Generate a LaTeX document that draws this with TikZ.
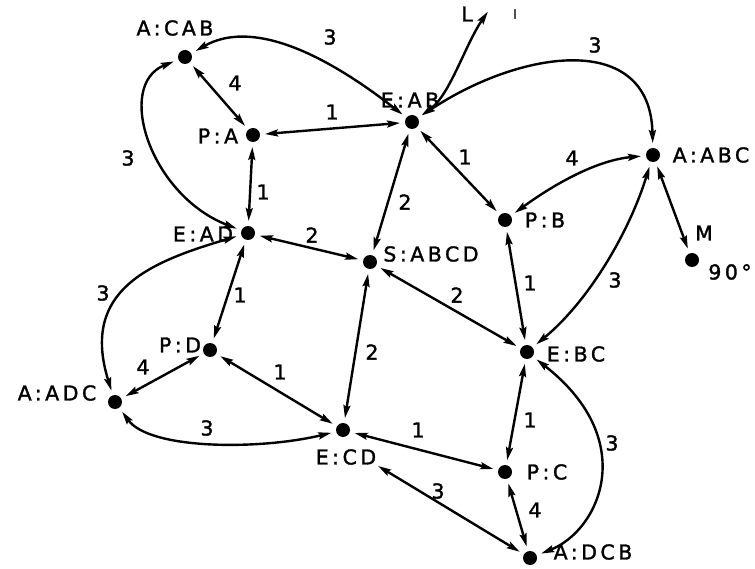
\documentclass[tikz,border=0pt]{standalone}
\usepackage{fontspec}
\setmainfont{DejaVu Sans}
\newfontfamily\labfont[LetterSpace=17,FakeBold=1.5]{DejaVu Sans}
\usetikzlibrary{arrows.meta}
\begin{document}
\begin{tikzpicture}[x=1pt,y=-1pt,
  dot/.style={circle,fill=black,inner sep=0pt,minimum size=14pt,outer sep=3pt},
  lab/.style={font=\labfont\fontsize{20.5}{20.5}\selectfont,inner sep=0pt},
  num/.style={font=\labfont\fontsize{20.5}{20.5}\selectfont,inner sep=0pt},
  tip/.tip={Stealth[length=13pt,width=7pt,inset=2pt]},
  e/.style={line width=2.4pt,tip-tip,shorten >=2pt,shorten <=2pt}]
\useasboundingbox (0,0) rectangle (755,569);
% dots
\node[dot] (cab) at (185,57) {};
\node[dot] (pa) at (253,135) {};
\node[dot] (eab) at (412,122) {};
\node[dot] (aabc) at (653,155) {};
\node[dot] (pb) at (505,220) {};
\node[dot] (m) at (692,260) {};
\node[dot] (ead) at (248,233) {};
\node[dot] (s) at (370,262) {};
\node[dot] (pd) at (210,350) {};
\node[dot] (ebc) at (527,352) {};
\node[dot] (aadc) at (115,402) {};
\node[dot] (ecd) at (343,430) {};
\node[dot] (pc) at (505,472) {};
\node[dot] (adcb) at (530,558) {};
\coordinate (ltip) at (489,10);
% node labels
\node[lab] (tcab) at (175,28) {A:CAB};
\node[lab] (tpa) at (218,136) {P:A};
\node[lab] (tead) at (203,234) {E:AD};
\node[lab] (teab) at (410,100) {E:AB};
\node[lab] (taabc) at (711,155) {A:ABC};
\node[lab] (tpb) at (545,220) {P:B};
\node[lab] (ts) at (431,254) {S:ABCD};
\node[lab] (tebc) at (576,354) {E:BC};
\node[lab] (tpc) at (547,472) {P:C};
\node[lab] (tadcb) at (593,552) {A:DCB};
\node[lab] (tpd) at (180,345) {P:D};
\node[lab] (taadc) at (57,393) {A:ADC};
\node[lab] (tecd) at (346,457) {E:CD};
\node[lab] (tm) at (704,233) {M};
\node[lab] (t90) at (730,272) {90°};
\node[lab] (tl) at (467,14) {L};
\node[lab,font=\labfont\fontsize{13}{13}\selectfont] (ti) at (515,14) {I};
% edge numbers
\node[num] (n1) at (235,83) {4};
\node[num] (n2) at (330,37) {3};
\node[num] (n3) at (332,112) {1};
\node[num] (n4) at (128,158) {3};
\node[num] (n5) at (263,192) {1};
\node[num] (n6) at (312,235) {2};
\node[num] (n7) at (595,45) {3};
\node[num] (n8) at (465,157) {1};
\node[num] (n9) at (572,158) {4};
\node[num] (n10) at (405,202) {2};
\node[num] (n11) at (530,283) {1};
\node[num] (n12) at (615,280) {3};
\node[num] (n13) at (457,295) {2};
\node[num] (n14) at (372,352) {2};
\node[num] (n15) at (240,295) {1};
\node[num] (n16) at (103,293) {3};
\node[num] (n17) at (143,367) {4};
\node[num] (n18) at (280,372) {1};
\node[num] (n19) at (207,428) {3};
\node[num] (n20) at (418,430) {1};
\node[num] (n21) at (438,491) {3};
\node[num] (n22) at (530,420) {1};
\node[num] (n23) at (612,443) {3};
\node[num] (n24) at (535,510) {4};
% connectors
\draw[e] (cab) -- (pa);
\draw[e] (cab) .. controls (250,20) and (320,50) .. (eab);
\draw[e] (cab) .. controls (115,85) and (150,195) .. (ead);
\draw[e] (pa) -- (eab);
\draw[e] (pa) -- (ead);
\draw[e] (eab) .. controls (450,95) and (465,45) .. (ltip);
\draw[e] (eab) .. controls (520,50) and (650,30) .. (aabc);
\draw[e] (eab) -- (pb);
\draw[e] (eab) -- (s);
\draw[e] (pb) .. controls (560,180) and (600,160) .. (aabc);
\draw[e] (aabc) -- (m);
\draw[e] (aabc) .. controls (630,230) and (590,300) .. (ebc);
\draw[e] (pb) -- (ebc);
\draw[e] (ead) -- (s);
\draw[e] (s) -- (ebc);
\draw[e] (s) -- (ecd);
\draw[e] (ead) -- (pd);
\draw[e] (ead) .. controls (150,262) and (80,290) .. (aadc);
\draw[e] (pd) -- (aadc);
\draw[e] (pd) -- (ecd);
\draw[e] (aadc) .. controls (150,450) and (260,450) .. (ecd);
\draw[e] (ecd) -- (pc);
\draw[e] (tecd.south east) -- (adcb);
\draw[e] (pc) -- (adcb);
\draw[e] (ebc) -- (pc);
\draw[e] (ebc) .. controls (640,440) and (600,530) .. (adcb);
\end{tikzpicture}
\end{document}
